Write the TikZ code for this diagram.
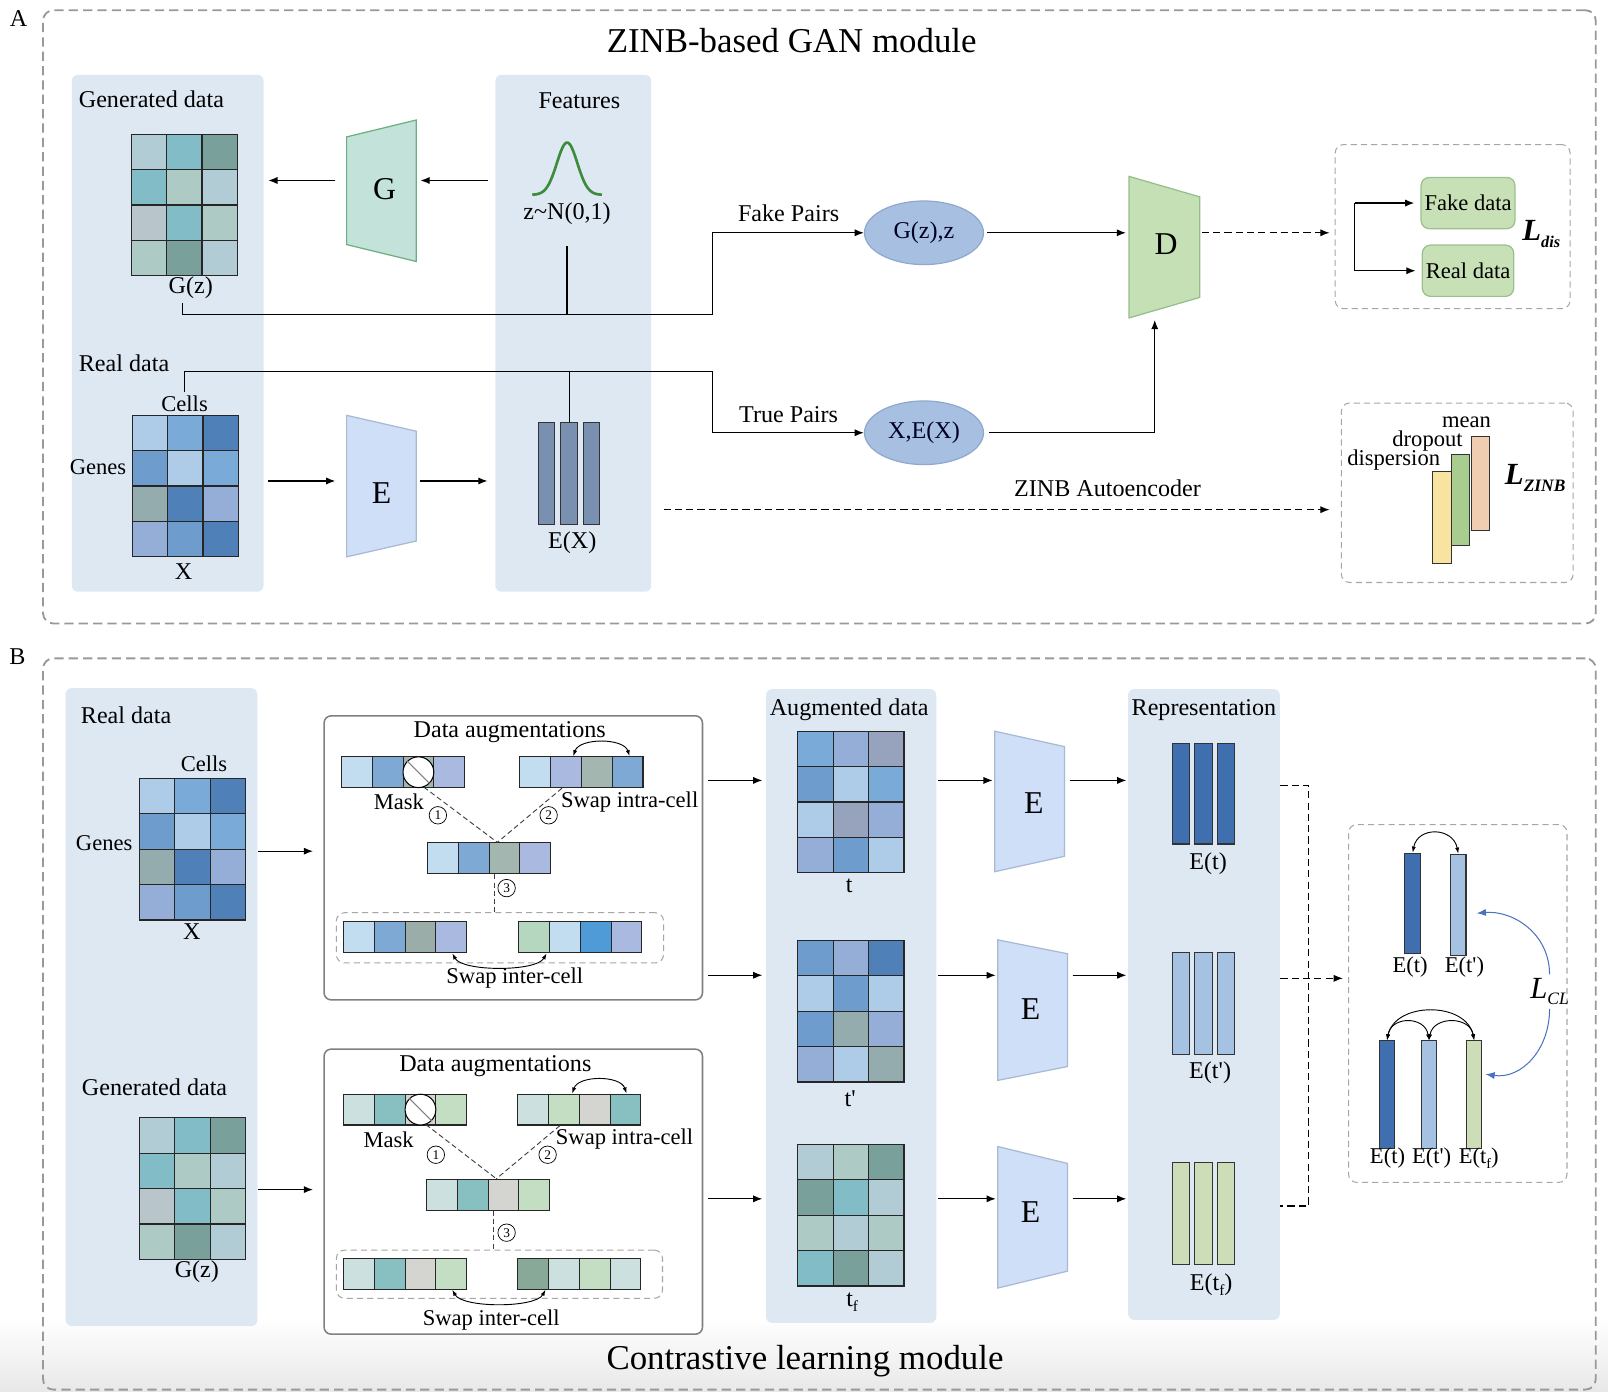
\documentclass[tikz,border=0pt]{standalone}
\usepackage{fontspec}
\setmainfont{Liberation Serif}
\newfontfamily\plainrm{Liberation Serif}
\usetikzlibrary{arrows.meta,shapes.geometric,positioning}

%% colours
\definecolor{panel}{HTML}{DEE8F3}
\definecolor{gA}{HTML}{B2CCD6}\definecolor{gB}{HTML}{82BCC6}\definecolor{gC}{HTML}{7AA09C}
\definecolor{gD}{HTML}{AECAC4}\definecolor{gE}{HTML}{B8C6CC}
\definecolor{bA}{HTML}{AECBE8}\definecolor{bB}{HTML}{7AAAD8}\definecolor{bC}{HTML}{5080B8}
\definecolor{bD}{HTML}{6E9CCC}\definecolor{bE}{HTML}{94ACAE}\definecolor{bF}{HTML}{94AED8}
\definecolor{bG}{HTML}{97A2BC}
\definecolor{sA}{HTML}{C2DDEF}\definecolor{sB}{HTML}{7FA9D5}\definecolor{sC}{HTML}{A3B6B0}
\definecolor{sD}{HTML}{A9B9E0}\definecolor{sE}{HTML}{9BADA8}\definecolor{sF}{HTML}{B6D7BF}
\definecolor{sG}{HTML}{4E9BD8}
\definecolor{tA}{HTML}{CDE0E0}\definecolor{tB}{HTML}{88BFC1}\definecolor{tC}{HTML}{D4D4D0}
\definecolor{tD}{HTML}{C4DEC4}\definecolor{tE}{HTML}{88A898}
\definecolor{genfill}{HTML}{C2E2DA}\definecolor{gendraw}{HTML}{6DAE7E}
\definecolor{dfill}{HTML}{C6E0B6}\definecolor{ddraw}{HTML}{93BE8A}
\definecolor{efill}{HTML}{D0DFF8}\definecolor{edraw}{HTML}{A7B9D3}
\definecolor{pairfill}{HTML}{A7BFE0}\definecolor{pairdraw}{HTML}{90A8CC}
\definecolor{resfill}{HTML}{C8E0B5}\definecolor{resdraw}{HTML}{9BBF90}
\definecolor{exfill}{HTML}{7A90B0}
\definecolor{darkbar}{HTML}{3F6FAF}\definecolor{lightbar}{HTML}{A6C2E2}\definecolor{greenbar}{HTML}{CDDDB8}
\definecolor{ybar}{HTML}{F8E4A0}\definecolor{gbar}{HTML}{A9CD8F}\definecolor{obar}{HTML}{F0CDB0}
\definecolor{gausscol}{HTML}{3C8C3C}
\definecolor{lclblue}{HTML}{4A72C0}

\newcommand{\bigf}{\fontsize{31}{31}\selectfont}
\newcommand{\apo}{{\plainrm'}}

\begin{document}
\begin{tikzpicture}[x=1pt, y=-1pt, line width=1.2pt,
  >={Latex[length=9pt,width=7pt]},
  font=\fontsize{23.5}{26}\selectfont,
  panel/.style={fill=panel, draw=none, rounded corners=6pt, inner sep=0},
  outerbox/.style={draw=black!40, dash pattern=on 9pt off 5pt, line width=1.8pt, rounded corners=10pt, inner sep=0},
  lossbox/.style={draw=black!35, dash pattern=on 6pt off 4pt, line width=1pt, rounded corners=8pt, inner sep=0},
  augbox/.style={draw=black!50, fill=white, rounded corners=7pt, line width=1.5pt, inner sep=0},
  pair/.style={ellipse, fill=pairfill, draw=pairdraw, minimum width=116pt, minimum height=62pt, inner sep=0, text=black!85!blue},
  resbox/.style={rounded corners=8pt, fill=resfill, draw=resdraw, minimum width=89pt, minimum height=50pt, font=\fontsize{22}{24}\selectfont},
  bar/.style={draw=black!80, line width=1pt, inner sep=0},
  num/.style={circle, draw, line width=0.7pt, inner sep=0, minimum size=17pt, font=\fontsize{13}{13}\selectfont},
  small/.style={font=\fontsize{22}{24}\selectfont},
  dashln/.style={dash pattern=on 7pt off 4pt, line width=1.1pt},
  thindash/.style={dash pattern=on 5pt off 3pt, line width=0.9pt, black!75},
  swap/.style={<->, line width=0.9pt, >={Latex[length=6pt,width=4pt]}},
  ]

  \newcommand\cellgrid[4]{% name, left, top, colours row by row
    \node[minimum width=103.5pt, minimum height=138pt, inner sep=0] (#1) at ({#2+51.75},{#3+69}) {};
    \foreach \c [count=\k from 0] in {#4} {
      \pgfmathtruncatemacro\col{mod(\k,3)}
      \pgfmathtruncatemacro\row{\k/3}
      \filldraw[fill=\c, draw=black!85] ({#2+\col*34.5},{#3+\row*34.5}) rectangle +(34.5,34.5);
    }
  }
  \newcommand\cellstrip[4]{% name, left, top, colours
    \node[minimum width=120pt, minimum height=30pt, inner sep=0] (#1) at ({#2+60},{#3+15}) {};
    \foreach \c [count=\k from 0] in {#4}
      \filldraw[fill=\c, draw=black!85, line width=1pt] ({#2+\k*30},#3) rectangle +(30,30);
  }
  \newcommand\trap[7]{% name, cx, cy, width, left half, right half, style
    \draw[#7] ({#2-#4/2},{#3-#5}) -- ({#2+#4/2},{#3-#6}) -- ({#2+#4/2},{#3+#6}) -- ({#2-#4/2},{#3+#5}) -- cycle;
    \coordinate (#1-w) at ({#2-#4/2},#3);
    \coordinate (#1-e) at ({#2+#4/2},#3);
  }

  \useasboundingbox (0,0) rectangle (1568,1357);
  \shade[top color=white, bottom color=black!9] (0,1285) rectangle (1568,1357);

  %% ---------------- A: ZINB-based GAN module ----------------
  \node[outerbox, minimum width=1514pt, minimum height=598pt] (boxA) at (799,309) {};
  \node (labA) at (18,18) {A};
  \node[font=\fontsize{34}{38}\selectfont] (titleA) at (772,40) {ZINB-based GAN module};

  \node[panel, minimum width=187pt, minimum height=504pt] (pgen) at (163.5,325) {};
  \node[panel, minimum width=152pt, minimum height=504pt] (pfeat) at (559,325) {};

  \node[anchor=west] (gendA) at (73,97) {Generated data};
  \cellgrid{gzA}{128}{131}{gA,gB,gC,gB,gD,gA,gE,gB,gD,gD,gC,gA}
  \node (gzlblA) at (186,281) {G(z)};

  \node (featA) at (565,98) {Features};
  \draw[gausscol, line width=2.6pt] plot[domain=-34:34, samples=50, smooth] ({553+\x},{190-51*exp(-(\x*\x)/200)});
  \node (zlbl) at (553,208) {z\textasciitilde N(0,1)};
  \coordinate (zdrop) at (553,240);

  \trap{gen}{372}{186}{68}{52.5}{69}{fill=genfill, draw=gendraw}
  \node[font=\bigf] (G) at (375,184) {G};
  \coordinate (rowG) at (0,176);
  \draw[->, shorten <=11pt, shorten >=4pt] (gen-w |- rowG) -- (pgen.east |- rowG);
  \draw[->, shorten <=7pt, shorten >=4pt] (pfeat.west |- rowG) -- (gen-e |- rowG);

  %% fake pairs
  \coordinate (fk) at (695,307);
  \node[pair] (fake) at (901,227) {G(z),z};
  \node (fklbl) at (769,208) {Fake Pairs};
  \draw[->] ([xshift=-8pt]gzlblA.south) |- (fk) |- (fake.west);
  \draw (zdrop) -- (zdrop |- fk);

  \trap{disc}{1135.5}{241}{69}{69}{49}{fill=dfill, draw=ddraw}
  \node[font=\bigf] (D) at (1137,238) {D};
  \draw[->, shorten <=3pt, shorten >=3pt] (fake.east) -- (disc-w |- fake.east);

  %% discriminator loss
  \node[lossbox, minimum width=229pt, minimum height=160pt] (ldisbox) at (1416.5,221) {};
  \draw[->, dashln, shorten <=2pt, shorten >=5pt] (disc-e |- fake.east) -- (ldisbox.west |- fake.east);
  \node[resbox] (fakeD) at (1431.5,198) {Fake data};
  \node[resbox] (realD) at (1431.5,264) {Real data};
  \coordinate (brk) at (1321,230);
  \draw (brk |- fakeD) -- (brk |- realD);
  \draw[->, shorten >=6pt] (brk |- fakeD) -- (fakeD.west);
  \draw[->, shorten >=6pt] (brk |- realD) -- (realD.west);
  \node (ldis) at (1503,228) {\bfseries\itshape\fontsize{30}{30}\selectfont L\raisebox{-7pt}{\fontsize{16}{16}\selectfont dis}};

  %% real data / true pairs
  \node[anchor=west] (realA) at (73,354) {Real data};
  \node[small] (cellsA) at (180,394) {Cells};
  \cellgrid{xA}{129}{405}{bA,bB,bC,bD,bA,bB,bE,bC,bF,bF,bD,bC}
  \node[small, anchor=east] (genesA) at (127,456) {Genes};
  \node (xlblA) at (179,557) {X};

  \trap{encA}{372}{474}{68}{69}{53.5}{fill=efill, draw=edraw}
  \node[font=\bigf] (EA) at (372,481) {E};
  \coordinate (rowE) at (0,469);
  \draw[->, shorten <=4pt, shorten >=11pt] (pgen.east |- rowE) -- (encA-w |- rowE);
  \draw[->, shorten <=4pt, shorten >=7pt] (encA-e |- rowE) -- (pfeat.west |- rowE);

  \foreach \i/\xx in {1/533,2/555,3/577}
    \node[bar, fill=exfill, minimum width=16pt, minimum height=99pt] (ex\i) at (\xx,461.5) {};
  \node (exlbl) at (558,529) {E(X)};

  \coordinate (tk) at (695,362);
  \node[pair] (truep) at (901,422) {X,E(X)};
  \node (trlbl) at (769,404) {True Pairs};
  \draw[->] (cellsA.north) |- (tk) |- (truep.west);
  \draw (ex2.north) -- (ex2.north |- tk);
  \coordinate (dbot) at (1126,312);
  \draw[->, shorten <=5pt] (truep.east) -| (dbot);

  %% ZINB loss
  \node[lossbox, minimum width=226pt, minimum height=175pt] (lzinbbox) at (1421,480.5) {};
  \coordinate (zae) at (647,497);
  \draw[->, dashln, shorten >=11pt] (zae) -- (lzinbbox.west |- zae);
  \node (zaelbl) at (1080,476) {ZINB Autoencoder};
  \node[bar, fill=obar, minimum width=18pt, minimum height=91pt] (meanb) at (1443.5,471.5) {};
  \node[bar, fill=gbar, minimum width=18pt, minimum height=89pt] (dropb) at (1424,487.5) {};
  \node[bar, fill=ybar, minimum width=18pt, minimum height=89pt] (dispb) at (1406,504.5) {};
  \node[small] (meanl) at (1430,412) {mean};
  \node[small] (dropl) at (1392,430) {dropout};
  \node[small] (displ) at (1359,449) {dispersion};
  \node (lzinb) at (1497,466) {\bfseries\itshape\fontsize{30}{30}\selectfont L\raisebox{-7pt}{\fontsize{17}{17}\selectfont ZINB}};

  %% ---------------- B: Contrastive learning module ----------------
  \node[outerbox, minimum width=1514pt, minimum height=713pt] (boxB) at (799,998.5) {};
  \node (labB) at (17,640) {B};
  \node[font=\fontsize{34}{38}\selectfont] (titleB) at (785,1327) {Contrastive learning module};

  \node[panel, minimum width=187pt, minimum height=622pt] (pdata) at (157.5,982) {};
  \node[anchor=west] (realB) at (75,697) {Real data};
  \node[small] (cellsB) at (199,745) {Cells};
  \cellgrid{xB}{136}{759}{bA,bB,bC,bD,bA,bB,bE,bC,bF,bF,bD,bC}
  \node[small, anchor=east] (genesB) at (133,822) {Genes};
  \node (xlblB) at (187,908) {X};
  \node[anchor=west] (gendB) at (76,1060) {Generated data};
  \cellgrid{gzB}{136}{1090}{gA,gB,gC,gB,gD,gA,gE,gB,gD,gD,gC,gA}
  \node (gzlblB) at (192,1240) {G(z)};

  %% augmentation boxes
  \node[augbox, minimum width=369pt, minimum height=277pt] (aug1) at (500.5,836.5) {};
  \node[augbox, minimum width=369pt, minimum height=278pt] (aug2) at (500.5,1162) {};
  \coordinate (rowX) at (0,830);
  \coordinate (rowZ) at (0,1160);
  \draw[->, shorten >=10pt] (pdata.east |- rowX) -- (aug1.west |- rowX);
  \draw[->, shorten >=10pt] (pdata.east |- rowZ) -- (aug2.west |- rowZ);

  \node (da1) at (497,714) {Data augmentations};
  \cellstrip{mask1}{333}{738}{sA,sB,sC,sD}
  \node[circle, draw, fill=white, line width=1pt, minimum size=30pt, inner sep=0] (msk1) at (408,753) {};
  \draw[black!50, line width=1pt] (msk1.135) -- (msk1.-45);
  \node[small] (masklbl1) at (389,782) {Mask};
  \cellstrip{intra1}{507}{738}{sA,sD,sC,sB}
  \draw[swap] ([xshift=-8pt]intra1.north) .. controls +(6,-18) and +(-6,-18) .. ([xshift=47pt]intra1.north);
  \node[small] (intralbl1) at (614,782) {Swap intra-cell};
  \cellstrip{mid1}{417}{822}{sA,sB,sC,sD}
  \draw[thindash] (msk1.-70) -- ([xshift=8pt]mid1.north);
  \draw[thindash] ([xshift=-19pt]intra1.south) -- ([xshift=8pt]mid1.north);
  \node[num] (n1a) at (427,795) {1};
  \node[num] (n2a) at (535,795) {2};
  \node[lossbox, minimum width=319pt, minimum height=49pt] (inter1) at (487.5,914.5) {};
  \draw[thindash] ([xshift=5pt]mid1.south) -- ([xshift=5pt]mid1.south |- inter1.north);
  \node[num] (n3a) at (494,866) {3};
  \cellstrip{il1}{335}{899}{sA,sB,sE,sD}
  \cellstrip{ir1}{506}{899}{sF,sA,sG,sD}
  \draw[swap] ([xshift=46pt]il1.south) .. controls +(10,18) and +(-10,18) .. ([xshift=-33pt]ir1.south);
  \node[small] (interlbl1) at (502,954) {Swap inter-cell};

  \node (da2) at (483,1040) {Data augmentations};
  \cellstrip{mask2}{335}{1067}{tA,tB,tC,tD}
  \node[circle, draw, fill=white, line width=1pt, minimum size=30pt, inner sep=0] (msk2) at (410,1082) {};
  \draw[black!50, line width=1pt] (msk2.135) -- (msk2.-45);
  \node[small] (masklbl2) at (379,1111) {Mask};
  \cellstrip{intra2}{505}{1067}{tA,tD,tC,tB}
  \draw[swap] ([xshift=-7pt]intra2.north) .. controls +(6,-18) and +(-6,-18) .. ([xshift=46pt]intra2.north);
  \node[small] (intralbl2) at (609,1111) {Swap intra-cell};
  \cellstrip{mid2}{416}{1150}{tA,tB,tC,tD}
  \draw[thindash] (msk2.-70) -- ([xshift=8pt]mid2.north);
  \draw[thindash] ([xshift=-19pt]intra2.south) -- ([xshift=8pt]mid2.north);
  \node[num] (n1b) at (425,1126) {1};
  \node[num] (n2b) at (534,1126) {2};
  \node[lossbox, minimum width=318pt, minimum height=47pt] (inter2) at (487,1242.5) {};
  \draw[thindash] ([xshift=5pt]mid2.south) -- ([xshift=5pt]mid2.south |- inter2.north);
  \node[num] (n3b) at (494,1202) {3};
  \cellstrip{il2}{335}{1227}{tA,tB,tC,tD}
  \cellstrip{ir2}{505}{1227}{tE,tA,tD,tA}
  \draw[swap] ([xshift=46pt]il2.south) .. controls +(10,18) and +(-10,18) .. ([xshift=-33pt]ir2.south);
  \node[small] (interlbl2) at (479,1287) {Swap inter-cell};

  %% augmented data
  \node[panel, minimum width=166pt, minimum height=618pt] (paug) at (830,981) {};
  \node (augl) at (828,692) {Augmented data};
  \cellgrid{tg}{778}{713}{bB,bF,bG,bD,bA,bB,bA,bG,bF,bF,bD,bA}
  \node (tlbl) at (828,864) {t};
  \cellgrid{tpg}{778}{917}{bD,bF,bC,bA,bD,bA,bD,bE,bF,bF,bA,bE}
  \node (tplbl) at (829,1071) {t\apo};
  \cellgrid{tfg}{778}{1116}{gA,gD,gC,gC,gB,gA,gD,gA,gD,gB,gC,gA}
  \node (tflbl) at (831,1270) {t\raisebox{-5pt}{\fontsize{15}{15}\selectfont f}};

  \coordinate (r1) at (0,761);
  \coordinate (r2) at (0,951);
  \coordinate (r3) at (0,1169);
  \draw[->, shorten <=5pt, shorten >=3pt] (aug1.east |- r1) -- (paug.west |- r1);
  \draw[->, shorten <=5pt, shorten >=3pt] (aug1.east |- r2) -- (paug.west |- r2);
  \draw[->, shorten <=5pt, shorten >=3pt] (aug2.east |- r3) -- (paug.west |- r3);

  %% encoders
  \trap{enc1}{1004}{781.5}{68}{68.5}{53.5}{fill=efill, draw=edraw}
  \trap{enc2}{1007}{985}{68}{68.5}{55}{fill=efill, draw=edraw}
  \trap{enc3}{1007}{1187}{68}{69}{52.5}{fill=efill, draw=edraw}
  \node[font=\bigf] (E1) at (1008,783) {E};
  \node[font=\bigf] (E2) at (1005,984) {E};
  \node[font=\bigf] (E3) at (1005,1182) {E};

  \node[panel, minimum width=148pt, minimum height=615pt] (prep) at (1174,979.5) {};
  \node (repl) at (1174,692) {Representation};

  \foreach \n/\r in {1/r1,2/r2,3/r3} {
    \draw[->, shorten <=1pt, shorten >=2pt] (paug.east |- \r) -- (enc\n-w |- \r);
    \draw[->, shorten <=5pt, shorten >=1pt] (enc\n-e |- \r) -- (prep.west |- \r);
  }

  %% representations
  \foreach \i/\xx in {1/1151.5,2/1173.5,3/1195.5} {
    \node[bar, fill=darkbar, minimum width=17pt, minimum height=98pt] (et\i) at (\xx,774) {};
    \node[bar, fill=lightbar, minimum width=17pt, minimum height=99pt] (etp\i) at (\xx,978.5) {};
    \node[bar, fill=greenbar, minimum width=17pt, minimum height=99pt] (etf\i) at (\xx,1183.5) {};
  }
  \node (etl) at (1178,842) {E(t)};
  \node (etpl) at (1180,1046) {E(t\apo)};
  \node (etfl) at (1181,1253) {E(t\raisebox{-5pt}{\fontsize{15}{15}\selectfont f})};

  %% contrastive loss
  \node[lossbox, minimum width=213pt, minimum height=349pt] (lclbox) at (1421.5,978.5) {};
  \coordinate (yd1) at (0,766);
  \coordinate (yd2) at (0,954);
  \coordinate (yd3) at (0,1176);
  \coordinate (cl) at (1276,954);
  \draw[dashln] (prep.east |- yd1) -| (cl |- yd3) -- (prep.east |- yd3);
  \draw[->, dashln, shorten >=5pt] (prep.east |- yd2) -- (lclbox.west |- yd2);

  \node[bar, fill=darkbar, minimum width=15pt, minimum height=98pt] (u1) at (1377.5,881) {};
  \node[bar, fill=lightbar, minimum width=15pt, minimum height=99pt] (u2) at (1422,882.5) {};
  \node[small] (u1l) at (1375,943) {E(t)};
  \node[small] (u2l) at (1428,943) {E(t\apo)};
  \draw[swap] (u1.north) .. controls +(5,-26) and +(-5,-26) .. (u2.north);

  \node[bar, fill=darkbar, minimum width=15pt, minimum height=105pt] (v1) at (1352.5,1067.5) {};
  \node[bar, fill=lightbar, minimum width=15pt, minimum height=105pt] (v2) at (1393.5,1067.5) {};
  \node[bar, fill=greenbar, minimum width=15pt, minimum height=105pt] (v3) at (1437.5,1067.5) {};
  \node[small] (v1l) at (1353,1129) {E(t)};
  \node[small] (v2l) at (1396,1129) {E(t\apo)};
  \node[small] (v3l) at (1442,1129) {E(t\raisebox{-5pt}{\fontsize{14}{14}\selectfont f})};
  \draw[swap] (v1.north) .. controls +(8,-38) and +(-8,-38) .. (v3.north);
  \draw[swap] (v1.north) .. controls +(4,-24) and +(-4,-24) .. (v2.north);
  \draw[swap] (v2.north) .. controls +(4,-24) and +(-4,-24) .. (v3.north);

  \node (lcl) at (1511,967) {\itshape\fontsize{30}{30}\selectfont L\raisebox{-6pt}{\fontsize{17}{17}\selectfont CL}};
  \draw[->, lclblue, line width=1pt] (lcl.north) .. controls +(0,-40) and +(35,-3) .. ([shift={(10,8)}]u2.east);
  \draw[->, lclblue, line width=1pt] (lcl.south) .. controls +(0,40) and +(35,5) .. ([shift={(3,-20)}]v3.east);

\end{tikzpicture}
\end{document}
